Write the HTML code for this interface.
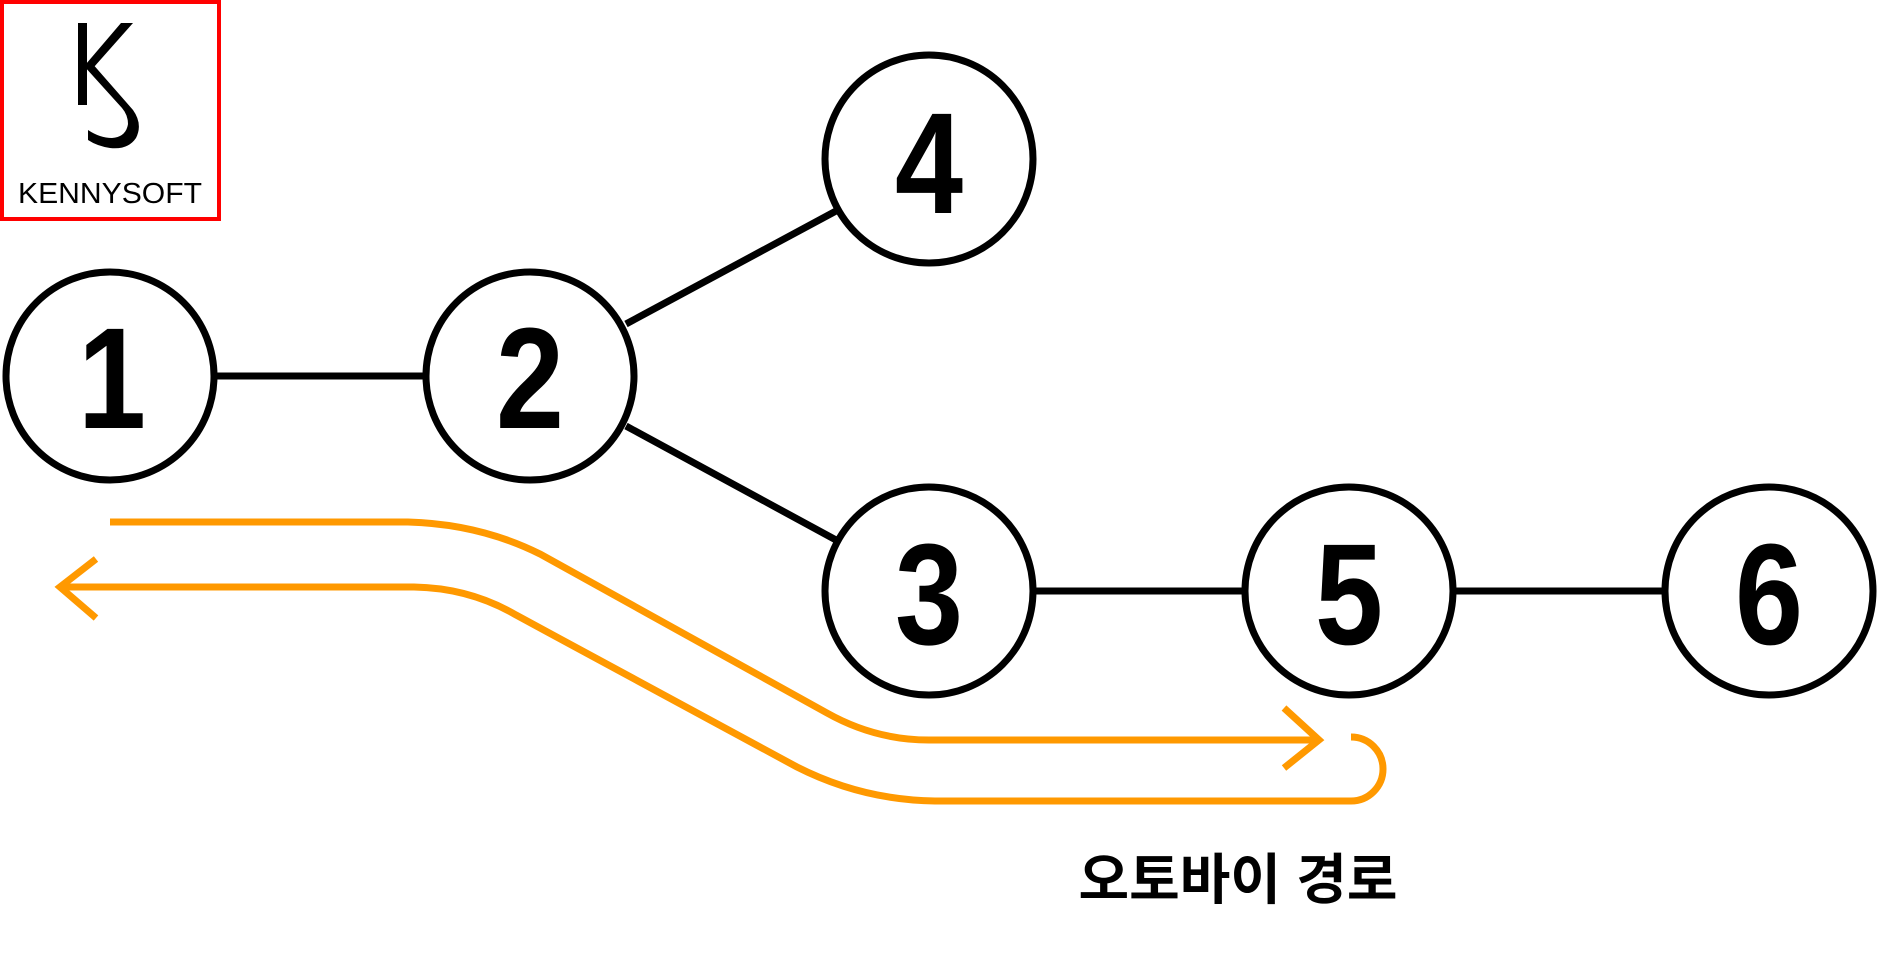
<!DOCTYPE html>
<html><head><meta charset="utf-8"><style>
html,body{margin:0;padding:0;background:#fff;}
svg{display:block}
</style></head><body>
<svg width="1880" height="959" viewBox="0 0 1880 959" xmlns="http://www.w3.org/2000/svg">
<rect x="2" y="2" width="217" height="217" fill="#fff" stroke="#ff0000" stroke-width="4"/>
<rect x="78" y="23" width="9" height="82" fill="#000"/>
<path d="M86 64 L121 23 L133 23 L94 67 Z" fill="#000"/>
<path d="M91 62 L133 110 Q143 124 136 138 Q128 150 110 148 Q97 146 88 140 L88 130 Q100 138 112 138 Q126 137 128 124 Q128 115 122 108 L84 66 Z" fill="#000"/>
<text x="110" y="203" text-anchor="middle" font-family="Liberation Sans, sans-serif" font-size="29" textLength="184" lengthAdjust="spacingAndGlyphs" fill="#000">KENNYSOFT</text>
<g stroke="#000" stroke-width="7" fill="none">
<line x1="214" y1="376" x2="426" y2="376"/>
<line x1="626" y1="324" x2="836" y2="211"/>
<line x1="626" y1="426" x2="836" y2="540"/>
<line x1="1033" y1="591" x2="1245" y2="591"/>
<line x1="1453" y1="591" x2="1665" y2="591"/>
</g>
<g stroke="#000" stroke-width="7" fill="#fff">
<circle cx="110" cy="376" r="104"/>
<circle cx="530" cy="376" r="104"/>
<circle cx="929" cy="159" r="104"/>
<circle cx="929" cy="591" r="104"/>
<circle cx="1349" cy="591" r="104"/>
<circle cx="1769" cy="591" r="104"/>
</g>
<g font-family="Liberation Sans, sans-serif" font-weight="bold" font-size="144" text-anchor="middle" fill="#000">
<text transform="translate(112,428) scale(0.85,1)">1</text>
<text transform="translate(530,428) scale(0.85,1)">2</text>
<text transform="translate(929,213) scale(0.85,1)">4</text>
<text transform="translate(929,644) scale(0.85,1)">3</text>
<text transform="translate(1349,644) scale(0.85,1)">5</text>
<text transform="translate(1769,644) scale(0.85,1)">6</text>
</g>
<g stroke="#ff9900" stroke-width="7" fill="none">
<path d="M110 522 L408 522 Q480 524 540 554 L827 713 Q875 740 929 740 L1319 740"/>
<path d="M1284 708 L1319 740 L1284 768"/>
<path d="M1351 737 A32 32 0 0 1 1351 801 L935 801 Q862 800 797 767 L516 615 Q470 588 414 587 L60 587"/>
<path d="M96 559 L60 587 L96 618"/>
</g>
<text x="1238" y="899" text-anchor="middle" font-family="Liberation Sans, 'Noto Sans CJK KR', sans-serif" font-weight="bold" font-size="55" fill="#000">오토바이 경로</text>
</svg>
</body></html>
